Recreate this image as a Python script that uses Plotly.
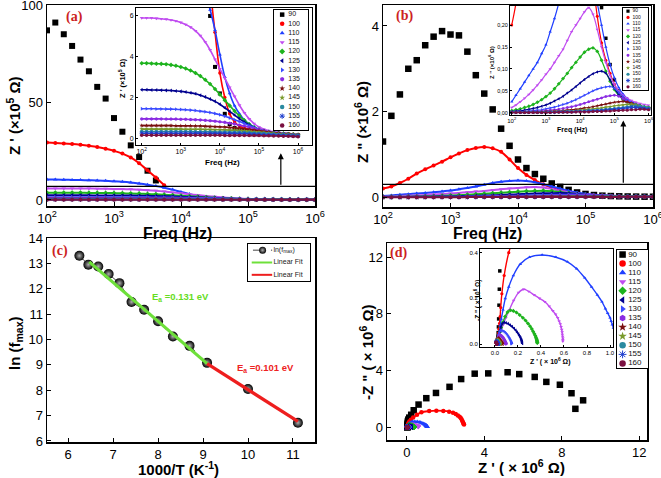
import plotly.graph_objects as go

W, H = 661, 478

# ---------------- data ----------------
freq_hz = [100, 133, 178, 237, 316, 422, 562, 750, 1000, 1334, 1778, 2371, 3162, 4217, 5623, 7499,
           10000, 13335, 17783, 23714, 31623, 42170, 56234, 74989, 100000, 133352, 177828, 237137,
           316228, 421697, 562341, 749894, 1000000]
temperatures = ["90", "100", "110", "115", "120", "125", "130", "135", "140", "145", "150", "155", "160"]

# Z' (x10^5 ohm)
zre_90 = [87, 91, 85, 79, 72, 66, 58, 52, 42, 35, 28, 22, 15, 10, 6.0, 3.5, 2.2, 1.2, 0.7, 0.5, 0.42, 0.38,
          0.35, 0.32, 0.3, 0.28, 0.26, 0.24, 0.22, 0.2, 0.18, 0.16, 0.15]
zre_100 = [29.5, 29.2, 29, 28.7, 28.3, 27.8, 27.2, 26.3, 25.2, 23.8, 21.8, 18.8, 15.2, 11.5, 7.5, 5.2, 3.2,
           2.0, 1.2, 0.8, 0.6, 0.5, 0.45, 0.4, 0.35, 0.32, 0.3, 0.28, 0.26, 0.24, 0.22, 0.2, 0.18]
zre_110 = [10.5, 10.5, 10.4, 10.3, 10.2, 10.1, 10.0, 9.8, 9.6, 9.3, 8.9, 8.4, 7.8, 7.1, 6.3, 5.3, 4.1, 3.0,
           2.2, 1.6, 1.2, 0.9, 0.7, 0.55, 0.45, 0.4, 0.35, 0.3, 0.28, 0.25, 0.22, 0.2, 0.18]
zre_115 = [5.9, 5.9, 5.9, 5.88, 5.86, 5.84, 5.8, 5.75, 5.68, 5.58, 5.45, 5.27, 5.03, 4.72, 4.33, 3.87, 3.4,
           2.95, 2.5, 2.05, 1.62, 1.25, 0.95, 0.72, 0.55, 0.44, 0.37, 0.32, 0.28, 0.25, 0.22, 0.2, 0.18]
zre_120 = [3.68, 3.68, 3.67, 3.66, 3.65, 3.63, 3.6, 3.56, 3.5, 3.42, 3.32, 3.2, 3.05, 2.87, 2.66, 2.42, 2.15,
           1.87, 1.6, 1.34, 1.1, 0.88, 0.69, 0.54, 0.43, 0.36, 0.31, 0.28, 0.25, 0.23, 0.21, 0.19, 0.17]
zre_125 = [2.38, 2.38, 2.37, 2.37, 2.36, 2.35, 2.34, 2.32, 2.3, 2.27, 2.23, 2.18, 2.11, 2.03, 1.93, 1.81, 1.67,
           1.5, 1.32, 1.14, 0.96, 0.8, 0.65, 0.52, 0.42, 0.35, 0.3, 0.26, 0.23, 0.21, 0.19, 0.17, 0.15]
zre_130 = [1.45, 1.45, 1.45, 1.44, 1.44, 1.43, 1.43, 1.42, 1.41, 1.4, 1.38, 1.36, 1.33, 1.3, 1.26, 1.21, 1.15,
           1.08, 1.0, 0.91, 0.82, 0.72, 0.62, 0.52, 0.43, 0.36, 0.3, 0.26, 0.23, 0.2, 0.18, 0.16, 0.14]
zre_135 = [0.95, 0.95, 0.95, 0.95, 0.95, 0.94, 0.94, 0.94, 0.93, 0.93, 0.92, 0.91, 0.9, 0.88, 0.86, 0.84, 0.81,
           0.78, 0.74, 0.7, 0.65, 0.6, 0.54, 0.48, 0.42, 0.36, 0.31, 0.27, 0.24, 0.21, 0.19, 0.17, 0.15]
zre_140 = [0.62, 0.62, 0.62, 0.62, 0.62, 0.62, 0.62, 0.61, 0.61, 0.61, 0.61, 0.6, 0.6, 0.59, 0.58, 0.57, 0.56,
           0.55, 0.53, 0.51, 0.49, 0.46, 0.43, 0.4, 0.37, 0.33, 0.3, 0.27, 0.24, 0.21, 0.19, 0.17, 0.15]
zre_145 = [0.45, 0.45, 0.45, 0.45, 0.45, 0.45, 0.45, 0.45, 0.45, 0.44, 0.44, 0.44, 0.44, 0.43, 0.43, 0.42, 0.42,
           0.41, 0.4, 0.39, 0.38, 0.36, 0.34, 0.32, 0.3, 0.28, 0.26, 0.24, 0.22, 0.2, 0.18, 0.16, 0.14]
zre_150 = [0.33, 0.33, 0.33, 0.33, 0.33, 0.33, 0.33, 0.33, 0.33, 0.33, 0.33, 0.32, 0.32, 0.32, 0.32, 0.31, 0.31,
           0.31, 0.3, 0.3, 0.29, 0.28, 0.27, 0.26, 0.25, 0.24, 0.22, 0.21, 0.19, 0.18, 0.16, 0.15, 0.13]
zre_155 = [0.25, 0.25, 0.25, 0.25, 0.25, 0.25, 0.25, 0.25, 0.25, 0.25, 0.25, 0.25, 0.25, 0.24, 0.24, 0.24, 0.24,
           0.24, 0.23, 0.23, 0.22, 0.22, 0.21, 0.2, 0.19, 0.18, 0.17, 0.16, 0.15, 0.14, 0.13, 0.12, 0.11]
zre_160 = [0.15, 0.15, 0.15, 0.15, 0.15, 0.15, 0.15, 0.15, 0.15, 0.15, 0.15, 0.15, 0.15, 0.15, 0.15, 0.15, 0.15,
           0.14, 0.14, 0.14, 0.14, 0.14, 0.13, 0.13, 0.13, 0.12, 0.12, 0.11, 0.11, 0.1, 0.1, 0.09, 0.08]

# Z'' (x10^6 ohm)
zim_90 = [1.3, 1.9, 2.4, 3.0, 3.2, 3.55, 3.75, 3.88, 3.8, 3.78, 3.4, 2.85, 2.42, 2.05, 1.6, 1.2, 0.88, 0.68,
          0.54, 0.43, 0.32, 0.24, 0.17, 0.11, 0.075, 0.05, 0.035, 0.026, 0.02, 0.016, 0.013, 0.011, 0.01]
zim_100 = [0.2, 0.25, 0.33, 0.43, 0.55, 0.65, 0.74, 0.83, 0.93, 1.02, 1.1, 1.15, 1.17, 1.14, 1.06, 0.88, 0.68,
           0.52, 0.4, 0.3, 0.22, 0.16, 0.12, 0.09, 0.065, 0.048, 0.036, 0.028, 0.022, 0.018, 0.015, 0.012, 0.01]
zim_110 = [0.025, 0.04, 0.055, 0.07, 0.085, 0.1, 0.115, 0.135, 0.155, 0.185, 0.215, 0.25, 0.29, 0.33, 0.36, 0.38,
           0.39, 0.38, 0.35, 0.3, 0.25, 0.2, 0.15, 0.11, 0.08, 0.058, 0.043, 0.033, 0.026, 0.021, 0.017, 0.014, 0.012]
zim_115 = [0.012, 0.018, 0.025, 0.033, 0.042, 0.052, 0.063, 0.075, 0.088, 0.1, 0.115, 0.13, 0.145, 0.165, 0.185,
           0.2, 0.215, 0.23, 0.24, 0.225, 0.19, 0.15, 0.115, 0.085, 0.065, 0.05, 0.04, 0.033, 0.028, 0.024, 0.021,
           0.019, 0.017]
zim_120 = [0.005, 0.007, 0.009, 0.012, 0.015, 0.019, 0.024, 0.03, 0.037, 0.045, 0.055, 0.066, 0.078, 0.09, 0.103,
           0.115, 0.127, 0.138, 0.145, 0.148, 0.14, 0.12, 0.095, 0.072, 0.053, 0.04, 0.031, 0.025, 0.021, 0.018,
           0.016, 0.014, 0.012]
zim_125 = [0.003, 0.004, 0.005, 0.006, 0.008, 0.01, 0.012, 0.015, 0.018, 0.022, 0.027, 0.032, 0.038, 0.045, 0.052,
           0.06, 0.068, 0.076, 0.083, 0.089, 0.093, 0.095, 0.09, 0.075, 0.056, 0.042, 0.032, 0.025, 0.02, 0.017,
           0.014, 0.012, 0.01]
zim_130 = [0.002, 0.002, 0.003, 0.003, 0.004, 0.005, 0.006, 0.007, 0.009, 0.011, 0.013, 0.016, 0.019, 0.022, 0.026,
           0.03, 0.035, 0.04, 0.045, 0.05, 0.054, 0.057, 0.059, 0.06, 0.056, 0.047, 0.037, 0.029, 0.023, 0.019,
           0.016, 0.013, 0.011]
zim_135 = [0.001, 0.001, 0.002, 0.002, 0.002, 0.003, 0.003, 0.004, 0.005, 0.006, 0.007, 0.008, 0.01, 0.012, 0.014,
           0.016, 0.019, 0.022, 0.025, 0.028, 0.031, 0.034, 0.037, 0.039, 0.04, 0.038, 0.032, 0.026, 0.021, 0.017,
           0.014, 0.012, 0.01]
zim_140 = [0.001, 0.001, 0.001, 0.001, 0.001, 0.002, 0.002, 0.002, 0.003, 0.003, 0.004, 0.004, 0.005, 0.006, 0.007,
           0.008, 0.009, 0.011, 0.012, 0.014, 0.016, 0.018, 0.02, 0.022, 0.024, 0.025, 0.026, 0.025, 0.022, 0.018,
           0.015, 0.012, 0.01]
zim_145 = [0.001, 0.001, 0.001, 0.001, 0.001, 0.001, 0.001, 0.002, 0.002, 0.002, 0.003, 0.003, 0.003, 0.004, 0.004,
           0.005, 0.006, 0.007, 0.008, 0.009, 0.01, 0.011, 0.013, 0.014, 0.016, 0.017, 0.018, 0.019, 0.02, 0.019,
           0.016, 0.013, 0.011]
zim_150 = [0.001, 0.001, 0.001, 0.001, 0.001, 0.001, 0.001, 0.001, 0.001, 0.002, 0.002, 0.002, 0.002, 0.003, 0.003,
           0.003, 0.004, 0.004, 0.005, 0.006, 0.006, 0.007, 0.008, 0.009, 0.01, 0.011, 0.012, 0.014, 0.015, 0.016,
           0.015, 0.013, 0.011]
zim_155 = [0.001, 0.001, 0.001, 0.001, 0.001, 0.001, 0.001, 0.001, 0.001, 0.001, 0.001, 0.002, 0.002, 0.002, 0.002,
           0.003, 0.003, 0.003, 0.004, 0.004, 0.005, 0.005, 0.006, 0.007, 0.008, 0.009, 0.01, 0.011, 0.012, 0.012,
           0.011, 0.01, 0.009]
zim_160 = [0.0005, 0.0005, 0.0005, 0.0005, 0.0005, 0.0005, 0.0005, 0.0005, 0.0005, 0.0005, 0.001, 0.001, 0.001,
           0.001, 0.001, 0.002, 0.002, 0.002, 0.002, 0.003, 0.003, 0.003, 0.004, 0.004, 0.005, 0.005, 0.006, 0.006,
           0.007, 0.007, 0.008, 0.008, 0.007]

# panel (c)
inv_T = [6.25, 6.45, 6.67, 6.9, 7.14, 7.41, 7.69, 8.0, 8.33, 8.7, 9.09, 10.0, 11.11]
ln_fmax = [13.3, 12.95, 12.88, 12.58, 12.22, 11.48, 11.17, 10.72, 10.12, 9.75, 9.08, 8.05, 6.72]
fit_high_x = [6.47, 9.09]
fit_high_y = [13.06, 9.05]
fit_low_x = [9.09, 11.11]
fit_low_y = [9.05, 6.77]

zre_all = [zre_90, zre_100, zre_110, zre_115, zre_120, zre_125, zre_130, zre_135, zre_140, zre_145, zre_150,
           zre_155, zre_160]
zim_all = [zim_90, zim_100, zim_110, zim_115, zim_120, zim_125, zim_130, zim_135, zim_140, zim_145, zim_150,
           zim_155, zim_160]

# ---------------- style ----------------
colors = ["#000000", "#FF0000", "#1F3FFF", "#C04CF0", "#1DB31D", "#00008F", "#3B4BFF", "#8A2BE2",
          "#7A0F0F", "#7A9A2A", "#2A8AA0", "#1F3FCF", "#7A1040"]
symbols = ["square", "circle", "triangle-up", "triangle-down", "diamond", "triangle-left", "triangle-right",
           "hexagon", "star", "star", "circle", "asterisk-open", "circle"]
FONT = "Liberation Sans, Arial, sans-serif"
SERIF = "Liberation Serif, Times New Roman, serif"
ZOOM_LINE_A = 7      # main (a): region below this line is shown enlarged in the inset
ZOOM_LINE_B = 0.3

fig = go.Figure()


def px_x(a, b):
    return [a / W, b / W]


def px_y(top, bot):
    return [1 - bot / H, 1 - top / H]


def axis(dom, rng, anchor, **kw):
    d = dict(domain=dom, range=rng, anchor=anchor, showline=True, mirror=True, linecolor="black",
             linewidth=1, ticks="inside", ticklen=4, tickcolor="black", showgrid=False, zeroline=False,
             automargin=False, ticklabeloverflow="allow",
             tickfont=dict(family=FONT, size=13, color="black"))
    d.update(kw)
    return d


layout = dict(template="none", width=W, height=H, margin=dict(l=0, r=0, t=0, b=0, pad=0),
              paper_bgcolor="white", plot_bgcolor="white", showlegend=False,
              font=dict(family=FONT, color="black"))


def set_axes(n, xd, yd):
    xk = "xaxis" if n == 1 else f"xaxis{n}"
    yk = "yaxis" if n == 1 else f"yaxis{n}"
    layout[xk] = xd
    layout[yk] = yd


def ids(n):
    return ("x", "y") if n == 1 else (f"x{n}", f"y{n}")


logtick = dict(type="log", dtick=1, exponentformat="power")
# main (a)
set_axes(1, axis(px_x(47, 315), [2, 6], "y", linewidth=1.5, tickfont=dict(family=FONT, size=10.5), **logtick),
         axis(px_y(5, 206), [-3.1, 100], "x", linewidth=1.5, tickvals=[0, 50, 100]))
# main (b)
set_axes(2, axis(px_x(383, 653), [2, 6], "y2", linewidth=1.5, tickfont=dict(family=FONT, size=10.5), **logtick),
         axis(px_y(5, 207), [-0.23, 4.49], "x2", linewidth=1.5, tickvals=[0, 2, 4]))
# main (c)
set_axes(3, axis(px_x(47, 315), [5.53, 11.49], "y3", linewidth=1.5, tickvals=[6, 7, 8, 9, 10, 11]),
         axis(px_y(238, 442), [5.96, 14], "x3", linewidth=1.5, tickvals=list(range(6, 15))))
# main (d)
set_axes(4, axis(px_x(387, 647), [-1.03, 12.4], "y4", linewidth=1.5, tickvals=[0, 4, 8, 12]),
         axis(px_y(243, 440), [-0.9, 13], "x4", linewidth=1.5, tickvals=[0, 4, 8, 12]))
# inset (a)
set_axes(5, axis(px_x(136, 312), [1.854, 6.356], "y5", ticklen=2, tickfont=dict(family=FONT, size=5.6), **logtick),
         axis(px_y(8, 145), [-0.33, 6.39], "x5", ticklen=2, tickvals=[0, 2, 4, 6],
              tickfont=dict(family=FONT, size=7)))
# inset (b)
yb_vals = [0, 0.05, 0.1, 0.15, 0.2]
yb_text = ["0,00", "0,05", "0,10", "0,15", "0,20"]
set_axes(6, axis(px_x(510, 651), [1.95, 6.07], "y6", ticklen=2, tickfont=dict(family=FONT, size=4.8), **logtick),
         axis(px_y(6, 115), [-0.005, 0.2436], "x6", ticklen=2, tickvals=yb_vals, ticktext=yb_text,
              tickfont=dict(family=FONT, size=5.5)))
# inset (d)
xd_vals = [0, 0.2, 0.4, 0.6, 0.8, 1.0]
set_axes(7, axis(px_x(480, 613), [-0.13, 1.026], "y7", ticklen=2, tickvals=xd_vals, tickformat=".1f",
                 tickfont=dict(family=FONT, size=6)),
         axis(px_y(249, 347), [-0.013, 0.416], "x7", ticklen=2, tickvals=[0, 0.2, 0.4], tickformat=".1f",
              tickfont=dict(family=FONT, size=6)))


def legend_axes(n, xa, xb, ytop, ybot, rows):
    common = dict(showline=True, mirror=True, linecolor="black", linewidth=1, showticklabels=False,
                  ticks="", showgrid=False, zeroline=False, automargin=False)
    set_axes(n, dict(domain=px_x(xa, xb), range=[0, 1], anchor=f"y{n}", **common),
             dict(domain=px_y(ytop, ybot), range=[rows - 0.5, -0.5], anchor=f"x{n}", **common))


legend_axes(8, 274, 308, 10, 130, len(temperatures))
legend_axes(9, 623, 648, 8, 90, len(temperatures))
legend_axes(10, 248, 310, 244, 281, 3)
legend_axes(11, 617, 648, 250, 368, len(temperatures))


def add_family(n, xs_all, ys_all, msize, lw, black_size, floor=None):
    xa, ya = ids(n)
    for i in range(len(temperatures)):
        xs, ys = list(xs_all[i]), list(ys_all[i])
        if floor is not None and i < 2:
            pairs = [(x, y) for x, y in zip(xs, ys) if y >= floor]
            xs, ys = [p[0] for p in pairs], [p[1] for p in pairs]
        mk = dict(color=colors[i], symbol=symbols[i], size=black_size if i == 0 else msize,
                  line=dict(width=1 if "open" in symbols[i] else 0, color=colors[i]))
        fig.add_trace(go.Scatter(x=xs, y=ys, xaxis=xa, yaxis=ya,
                                 mode="markers" if i == 0 else "lines+markers",
                                 marker=mk, line=dict(color=colors[i], width=lw, shape="spline"),
                                 hoverinfo="skip"))


zre_mega = [[v / 10 for v in s] for s in zre_all]     # x10^5 -> x10^6 ohm
freq_all = [freq_hz] * len(temperatures)

add_family(1, freq_all, zre_all, 4, 2, 6, floor=ZOOM_LINE_A)
add_family(2, freq_all, zim_all, 4, 2, 6.5)
add_family(4, zre_mega, zim_all, 4.5, 1.8, 6.5)
add_family(5, freq_all, zre_all, 3.5, 1.6, 4)
add_family(6, freq_all, zim_all, 3, 1.2, 3.5)
add_family(7, zre_mega, zim_all, 3.2, 1.4, 3.5)

# panel (c)
fig.add_trace(go.Scatter(x=inv_T, y=ln_fmax, xaxis="x3", yaxis="y3", mode="lines+markers",
                         line=dict(color="#444444", width=1, dash="dash"),
                         marker=dict(color="black", size=10, gradient=dict(type="radial", color="#b0b0b0")),
                         hoverinfo="skip"))
fig.add_trace(go.Scatter(x=fit_high_x, y=fit_high_y, xaxis="x3", yaxis="y3", mode="lines",
                         line=dict(color="#6EE03A", width=3.2), hoverinfo="skip"))
fig.add_trace(go.Scatter(x=fit_low_x, y=fit_low_y, xaxis="x3", yaxis="y3", mode="lines",
                         line=dict(color="#EE1E1E", width=3.2), hoverinfo="skip"))


# legends
def add_legend(n, mx, tx, msize, fsize):
    xa, ya = ids(n)
    for i, t in enumerate(temperatures):
        fig.add_trace(go.Scatter(x=[mx], y=[i], xaxis=xa, yaxis=ya, mode="markers", cliponaxis=False,
                                 marker=dict(color=colors[i], symbol=symbols[i], size=msize,
                                             line=dict(width=1 if "open" in symbols[i] else 0,
                                                       color=colors[i])),
                                 hoverinfo="skip"))
    fig.add_trace(go.Scatter(x=[tx] * len(temperatures), y=list(range(len(temperatures))), xaxis=xa, yaxis=ya,
                             mode="text", text=temperatures, textposition="middle right", cliponaxis=False,
                             textfont=dict(family=FONT, size=fsize, color="#111111"), hoverinfo="skip"))


add_legend(8, 0.24, 0.42, 4.5, 7)
add_legend(9, 0.2, 0.38, 3.2, 5)
add_legend(11, 0.18, 0.36, 6.5, 8)

legend_c_labels = ["ln(f<sub>max</sub>)", "Linear Fit", "Linear Fit"]
fig.add_trace(go.Scatter(x=[0.08, 0.39], y=[0, 0], xaxis="x10", yaxis="y10", mode="lines",
                         line=dict(color="#444444", width=1, dash="dash"), hoverinfo="skip"))
fig.add_trace(go.Scatter(x=[0.235], y=[0], xaxis="x10", yaxis="y10", mode="markers",
                         marker=dict(color="black", size=7, gradient=dict(type="radial", color="#b0b0b0")),
                         hoverinfo="skip"))
fig.add_trace(go.Scatter(x=[0.06, 0.39], y=[1, 1], xaxis="x10", yaxis="y10", mode="lines",
                         line=dict(color="#6EE03A", width=2), hoverinfo="skip"))
fig.add_trace(go.Scatter(x=[0.06, 0.39], y=[2, 2], xaxis="x10", yaxis="y10", mode="lines",
                         line=dict(color="#EE1E1E", width=2), hoverinfo="skip"))
fig.add_trace(go.Scatter(x=[0.41] * 3, y=[0, 1, 2], xaxis="x10", yaxis="y10", mode="text",
                         text=legend_c_labels, textposition="middle right", cliponaxis=False,
                         textfont=dict(family=FONT, size=7, color="#222222"), hoverinfo="skip"))

# ---------------- text ----------------
ann = []


def txt(text, xpx, ypx, size, angle=0, bold=True, color="black", family=FONT):
    ann.append(dict(text=f"<b>{text}</b>" if bold else text, x=xpx / W, y=1 - ypx / H, xref="paper",
                    yref="paper", showarrow=False, textangle=angle, xanchor="center", yanchor="middle",
                    font=dict(family=family, size=size, color=color)))


txt("Freq (Hz)", 177, 233, 16)
txt("Z ' (×10<sup>5</sup> Ω)", 14, 116, 15, -90)
txt("Freq (Hz)", 487, 233, 16)
txt('Z " (×10<sup>6</sup> Ω)', 362, 122, 15, -90)
txt("1000/T (K<sup>-1</sup>)", 178, 468, 15)
txt("ln (f<sub>max</sub>)", 15, 343, 15, -90)
txt("Z ' ( × 10<sup>6</sup> Ω)", 521, 466, 15)
txt('-Z " ( × 10<sup>6</sup> Ω)', 366, 353, 15, -90)

txt("Freq (Hz)", 222, 163, 8)
txt("Z ' (×10<sup>5</sup> Ω)", 122, 78, 7.5, -90)
txt("Freq (Hz)", 572, 130, 7)
txt('Z " (×10<sup>6</sup> Ω)', 491, 63, 6, -90)
txt("Z ' ( × 10<sup>6</sup> Ω)", 550, 361, 7)
txt('-Z " ( × 10<sup>6</sup> Ω)', 477, 300, 6.5, -90)

for lab, xp, yp in [("(a)", 74, 17), ("(b)", 404, 16), ("(c)", 60, 251), ("(d)", 398, 253)]:
    txt(lab, xp, yp, 14, color="#CC2222", family=SERIF)

ann.append(dict(text="<b>E<sub>a</sub> =0.131 eV</b>", x=7.82, y=11.68, xref="x3", yref="y3", showarrow=False,
                xanchor="left", yanchor="middle", font=dict(family=FONT, size=9.5, color="#66DD22")))
ann.append(dict(text="<b>E<sub>a</sub> =0.101 eV</b>", x=9.7, y=8.88, xref="x3", yref="y3", showarrow=False,
                xanchor="left", yanchor="middle", font=dict(family=FONT, size=9.5, color="#EE2222")))

# arrows from the zoom line to the insets (log axes use log10 positions)
ann.append(dict(text="", x=5.49, y=24, ax=5.49, ay=ZOOM_LINE_A, xref="x", yref="y", axref="x", ayref="y",
                showarrow=True, arrowhead=2, arrowsize=1, arrowwidth=1.2, arrowcolor="black", standoff=0))
ann.append(dict(text="", x=5.56, y=1.79, ax=5.56, ay=ZOOM_LINE_B, xref="x2", yref="y2", axref="x2", ayref="y2",
                showarrow=True, arrowhead=2, arrowsize=1, arrowwidth=1.2, arrowcolor="black", standoff=0))

layout["annotations"] = ann
layout["shapes"] = [
    dict(type="line", xref="x domain", yref="y", x0=0, x1=1, y0=ZOOM_LINE_A, y1=ZOOM_LINE_A,
         line=dict(color="black", width=1.2)),
    dict(type="line", xref="x2 domain", yref="y2", x0=0, x1=1, y0=ZOOM_LINE_B, y1=ZOOM_LINE_B,
         line=dict(color="black", width=1.2)),
]

fig.update_layout(**layout)
fig.write_html("out.html", config={"displayModeBar": False, "staticPlot": True},
               post_script="document.body.style.margin='0';document.body.style.padding='0';")
